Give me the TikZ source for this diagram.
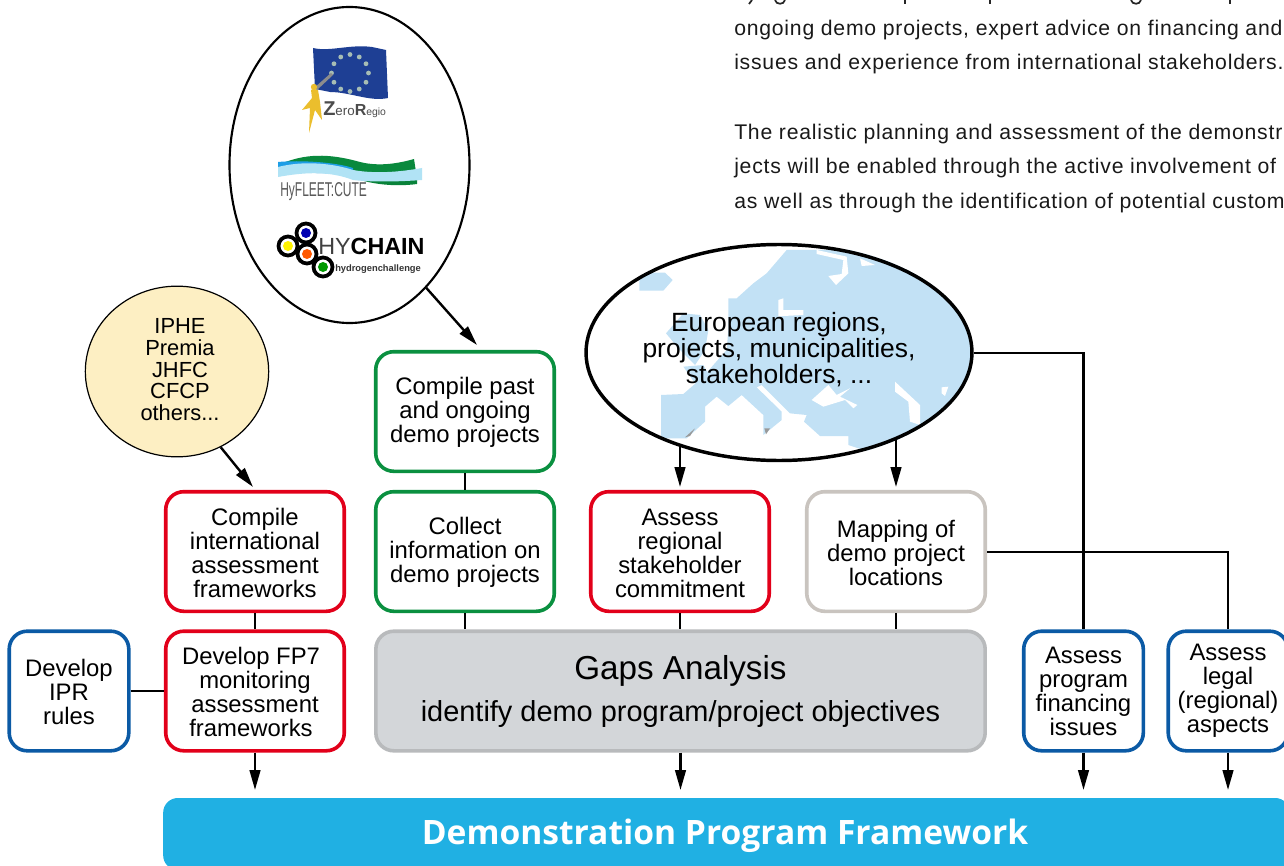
\documentclass[tikz,border=0pt]{standalone}
\usepackage{fontspec}
\setmainfont{Liberation Sans}
\newfontfamily\barfont{Open Sans}
\newfontfamily\bodyfont[LetterSpace=3.6]{Liberation Sans}
\usetikzlibrary{arrows.meta,shapes.geometric,calc}
\definecolor{cred}{HTML}{E2001A}
\definecolor{cgreen}{HTML}{0A9040}
\definecolor{cblue}{HTML}{0B5AA5}
\definecolor{cbeige}{HTML}{C9C4BF}
\definecolor{cgapfill}{HTML}{D3D6D9}
\definecolor{cgapline}{HTML}{B8BABC}
\definecolor{cbar}{HTML}{20B0E3}
\definecolor{cyellow}{HTML}{FDEFC3}
\definecolor{cmap}{HTML}{C2E1F5}
\definecolor{cflag}{HTML}{1E3F94}
\definecolor{cfigure}{HTML}{EBBE2D}
\definecolor{cstar}{HTML}{A7BDB4}
\newcommand{\firstline}{\rule{0pt}{14.5pt}}
\newcommand{\othersline}{\hspace*{4.5pt}}
\tikzset{
  lab/.style={font=\fontsize{17.9pt}{18pt}\selectfont,align=center,text=black,inner sep=0pt},
  wide/.style={lab,shape=rectangle,draw,line width=2.7pt,rounded corners=13.5pt,fill=white,minimum width=133.9pt,minimum height=89.7pt},
  narrow/.style={wide,minimum width=89.7pt},
  redbox/.style={wide,draw=cred},
  greenbox/.style={wide,draw=cgreen},
  beigebox/.style={wide,draw=cbeige},
  bluebox/.style={narrow,draw=cblue},
  conn/.style={draw=black,line width=1.8pt},
  arr/.style={conn,-{Stealth[length=15pt,width=8pt,inset=0pt]}},
  bodyline/.style={anchor=base west,inner sep=0pt,font=\bodyfont\fontsize{15.9pt}{17pt}\selectfont,text=black!90}
}
\begin{document}
\begin{tikzpicture}[x=0.75pt,y=-0.75pt]
\useasboundingbox (0,0) rectangle (1284,866);
\clip (0,0) rectangle (1284,866);

% cut-off first line of the text column (descenders only)
\draw[line width=1.3pt,black!85] (752,0) -- (749,4) (905,0) -- (905,4) (990,0) -- (990,4) (1230,0) -- (1230,4);
\draw[line width=1.3pt,black!85] (775,0) .. controls (776,5) and (784,5) .. (785,0);
\draw[line width=1.3pt,black!85] (1131,0) .. controls (1132,5) and (1140,5) .. (1141,0);

% text column
\node[bodyline] (t1) at (734,35.7) {ongoing demo projects, expert advice on financing and};
\node[bodyline] (t2) at (734,69.7) {issues and experience from international stakeholders.};
\node[bodyline] (t3) at (734,139.7) {The realistic planning and assessment of the demonstr};
\node[bodyline] (t4) at (734,174) {jects will be enabled through the active involvement of};
\node[bodyline] (t5) at (734,208.7) {as well as through the identification of potential custom};

% bar
\node[shape=rectangle,fill=cbar,rounded corners=11pt,minimum width=845pt,minimum height=54pt,inner sep=0pt] (bar) at (726.5,834) {};
\node[text=white,font=\barfont\bfseries\fontsize{25.2pt}{28pt}\selectfont,inner sep=0pt] (bartext) at (725,835.5) {Demonstration Program Framework};

% logos ellipse
\node[shape=ellipse,draw,line width=1.6pt,fill=white,minimum width=180pt,minimum height=237pt,inner sep=0pt] (logos) at (349.5,165) {};

% ZeroRegio logo
\fill[cflag] (313,48) .. controls (330,52) and (350,44) .. (372,47) -- (386,50) -- (388,98) .. controls (370,102) and (350,92) .. (330,92) -- (315,89) -- cycle;
\foreach \a in {0,30,...,330} \fill[cstar] ({350+18.5*cos(\a)},{73+18.5*sin(\a)}) circle (2.4);
\fill[black!45] (331,73) -- (333,75) -- (317,90) -- (314,88) -- cycle;
\fill[cfigure] (314,87) circle (3.2) (311,90) -- (318,90) -- (320,102) -- (322,120) -- (315,110) -- (309,133) -- (310,108) -- (302,110) -- (312,98) -- cycle;
\node[inner sep=0pt,anchor=base west,text=black!70] (zero) at (323,115.5) {\fontsize{15pt}{16pt}\selectfont\bfseries Z\fontsize{10pt}{11pt}\selectfont\mdseries ero\fontsize{12pt}{13pt}\selectfont\bfseries R\fontsize{7.8pt}{8pt}\selectfont\mdseries egio};

% HyFLEET:CUTE logo
\fill[cgreen!95!black] (283,163) .. controls (310,152) and (335,155) .. (360,162) .. controls (380,167) and (400,163) .. (414,159) -- (416,172) -- (283,172) -- cycle;
\fill[cgreen!90!black] (340,172) -- (417,172) -- (417,184) .. controls (395,187) and (365,185) .. (340,172) -- cycle;
\fill[cbar!90!blue] (278,162) .. controls (300,160) and (335,162) .. (353,168) -- (353,174) -- (278,172) -- cycle;
\fill[cbar!35!white] (278,167) .. controls (305,160) and (335,164) .. (353,170) .. controls (375,174) and (400,172) .. (422,168) -- (422,180) .. controls (395,182) and (370,182) .. (353,180) .. controls (330,171) and (305,172) .. (278,177) -- cycle;
\node[inner sep=0pt,anchor=base west,text=black!65] (hyfleet) at (280,197) {\scalebox{0.6}[1]{\fontsize{15pt}{16pt}\selectfont HyFLEET:CUTE}};

% HyChain logo
\foreach \cx/\cy/\col in {288/246/yellow,306/233/blue!70!black,307/254/orange!70!red,323/267/green!60!black} {
  \fill[white] (\cx,\cy) circle (10);
  \draw[black,line width=2.8pt] (\cx,\cy) circle (9.5);
  \fill[\col] (\cx,\cy) circle (5);
}
\node[inner sep=0pt,anchor=base west] (hychain) at (318,255) {\fontsize{17.5pt}{18pt}\selectfont\textcolor{black!75}{HY}\textbf{CHAIN}};
\node[inner sep=0pt,anchor=base west,text=black!80] (hydrogen) at (335,272) {\bfseries\fontsize{7pt}{8pt}\selectfont hydrogenchallenge};

% yellow ellipse
\node[shape=ellipse,draw,line width=0.9pt,fill=cyellow,minimum width=137.5pt,minimum height=128pt,inner sep=0pt,lab,font=\fontsize{16.4pt}{16.3pt}\selectfont] (others) at (177,371.5) {\othersline IPHE\\\othersline Premia\\\othersline JHFC\\\othersline CFCP\\\othersline others...\rule[-3pt]{0pt}{3pt}};

% Europe ellipse with map
\begin{scope}
\clip (779,352.5) ellipse [x radius=194, y radius=110];
\begin{scope}[shift={(435pt,-187.5pt)},x=0.25pt,y=-0.25pt]
\fill[cmap] (620,0) -- (560,70) -- (520,100) -- (470,145) -- (445,145) -- (445,240) -- (440,300) -- (400,345) -- (370,380) -- (310,432) -- (243,435) -- (243,565) -- (320,565) -- (375,515) -- (375,470) -- (410,440) -- (445,468) -- (485,435) -- (550,495) -- (550,555) -- (605,510) -- (605,485) -- (530,412) -- (545,405) -- (630,490) -- (680,495) -- (672,515) -- (720,558) -- (805,558) -- (805,585) -- (850,600) -- (1200,640) -- (1200,0) -- cycle;
\fill[cmap] (178,90) -- (205,68) -- (255,68) -- (278,90) -- (250,122) -- (178,122) -- cycle;
\fill[cmap] (258,250) -- (310,190) -- (360,195) -- (385,240) -- (375,300) -- (345,345) -- (300,300) -- cycle;
\fill[cmap] (310,350) -- (370,345) -- (390,380) -- (345,400) -- cycle;
\fill[white] (595,150) -- (610,145) -- (610,180) -- (670,180) -- (670,195) -- (610,198) -- (595,200) -- cycle;
\fill[white] (710,0) -- (800,20) -- (805,70) -- (768,105) -- (745,78) -- (785,72) -- (790,30) -- (710,12) -- cycle;
\fill[white] (840,25) -- (885,45) -- (845,48) -- cycle;
\fill[white] (695,450) -- (745,405) -- (770,435) -- (810,415) -- (780,440) -- (832,465) -- (820,475) -- (795,450) -- (730,470) -- cycle;
\fill[white] (945,395) -- (1020,465) -- (1020,525) -- (990,515) -- (985,455) -- (945,425) -- cycle;
\fill[white] (1085,412) -- (1105,410) -- (1095,438) -- (1085,430) -- cycle;
\fill[black!40] (315,562) -- (345,535) -- (330,558) -- cycle (553,535) -- (570,535) -- (558,553) -- cycle;
\end{scope}
\end{scope}
\node[shape=ellipse,draw,line width=2.6pt,minimum width=289pt,minimum height=162pt,inner sep=0pt,lab,font=\fontsize{19.8pt}{19.6pt}\selectfont] (europe) at (779,352.5) {European regions,\\projects, municipalities,\\stakeholders, ...\rule[-7pt]{0pt}{7pt}};

% boxes
\node[greenbox] (past) at (465,411.5) {\firstline Compile past\\and ongoing\\demo projects};
\node[redbox] (intl) at (255,551.5) {\firstline Compile\\international\\assessment\\frameworks};
\node[greenbox] (collect) at (465,551.5) {\firstline Collect\\information on\\demo projects};
\node[redbox] (regional) at (680,551.5) {\firstline Assess\\regional\\stakeholder\\commitment};
\node[beigebox] (mapping) at (896,551.5) {\firstline Mapping of\\demo project\\locations};
\node[redbox] (fp7) at (255,691) {\firstline Develop FP7\hspace*{6pt}\\monitoring\hspace*{6pt}\\assessment\hspace*{6pt}\\frameworks\hspace*{6pt}};
\node[bluebox] (ipr) at (69,691) {\firstline Develop\\IPR\\rules};
\node[shape=rectangle,draw=cgapline,fill=cgapfill,line width=2.7pt,rounded corners=13.5pt,minimum width=457pt,minimum height=89.7pt,inner sep=0pt] (gaps) at (680.5,691) {};
\node[inner sep=0pt,font=\fontsize{24.9pt}{26pt}\selectfont] (gapstitle) at (680.5,671) {Gaps Analysis};
\node[inner sep=0pt,font=\fontsize{21.7pt}{23pt}\selectfont] (gapssub) at (680.5,714) {identify demo program/project objectives};
\node[bluebox] (prog) at (1083.5,691) {Assess\\program\\financing\\issues};
\node[bluebox] (legal) at (1228,691) {Assess\\legal\\(regional)\\aspects};

% connector ends
\coordinate (eA) at (680,447);
\coordinate (eB) at (896,440);
\coordinate (aPast) at (477,345);
\coordinate (aIntl) at (253,487);
\coordinate (aReg) at (680,487);
\coordinate (aMap) at (896,487);
\coordinate (bFp7) at (255,790);
\coordinate (bGap) at (680.5,790);
\coordinate (bProg) at (1083.5,790);
\coordinate (bLegal) at (1228,790);
\coordinate (turnE) at (1083.5,353);
\coordinate (turnM) at (1228,552);

% connectors
\draw[arr] (logos.-58.5) -- (aPast);
\draw[arr] (others.-60.5) -- (aIntl);
\draw[arr] (eA) -- (aReg);
\draw[arr] (eB) -- (aMap);
\draw[conn] (europe.east |- turnE) -- (turnE) -- (prog.north);
\draw[conn] (mapping.east |- turnM) -- (turnM) -- (legal.north);
\draw[conn] (intl.south) -- (fp7.north);
\draw[conn] (past.south) -- (collect.north);
\draw[conn] (collect.south) -- (collect.south |- gaps.north);
\draw[conn] (regional.south) -- (regional.south |- gaps.north);
\draw[conn] (mapping.south) -- (mapping.south |- gaps.north);
\draw[conn] (ipr.east) -- (fp7.west);
\draw[arr] (fp7.south) -- (bFp7);
\draw[arr] (gaps.south) -- (bGap);
\draw[arr] (prog.south) -- (bProg);
\draw[arr] (legal.south) -- (bLegal);
\end{tikzpicture}
\end{document}
